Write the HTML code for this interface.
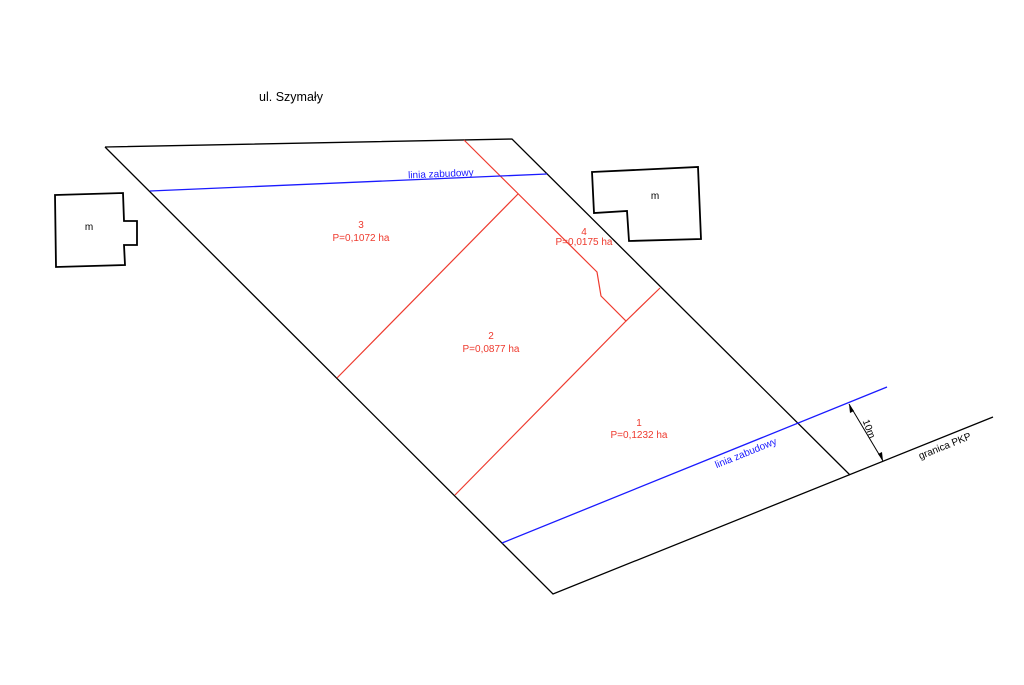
<!DOCTYPE html>
<html><head><style>body{margin:0;background:#fff}</style></head><body>
<svg width="1024" height="680" xmlns="http://www.w3.org/2000/svg" font-family="Liberation Sans, sans-serif">
<rect width="1024" height="680" fill="#fff"/>
<g fill="none" stroke="#000" stroke-width="1.3">
<polyline points="105,147 512,139 850,475"/>
<polyline points="105,147 553,594 993,417"/>
<polygon points="55,195 123,193 124,221 137,221 137,245 124,245 125,265 56,267" stroke-width="1.8"/>
<polygon points="592,172 698,167 701,239 629,241 627,211 594,213" stroke-width="1.8"/>
<line x1="849" y1="404" x2="883" y2="461" stroke-width="1"/>
</g>
<path d="M849,404 l1,9 l4,-2 z M883,461 l-1,-9 l-4,2 z" fill="#000"/>
<g stroke="#ee3a2e" stroke-width="1.2" fill="none">
<polyline points="464,140 597,272 601,296 626,321 660,288"/>
<line x1="626" y1="321" x2="455" y2="495"/>
<line x1="518" y1="194" x2="337" y2="378"/>
</g>
<g stroke="#1a1aff" stroke-width="1.3">
<line x1="150" y1="191" x2="547" y2="174"/>
<line x1="502" y1="543" x2="887" y2="387"/>
</g>
<g font-size="10" fill="#000" text-anchor="middle">
<text x="291" y="101" font-size="12.5">ul. Szymały</text>
<text x="89" y="230">m</text>
<text x="655" y="199">m</text>
<text transform="translate(946,449) rotate(-22)">granica PKP</text>
<text transform="translate(866,430) rotate(69)">10m</text>
</g>
<g font-size="10" fill="#ee3a2e" text-anchor="middle">
<text x="361" y="228">3</text><text x="361" y="241">P=0,1072 ha</text>
<text x="491" y="339">2</text><text x="491" y="352">P=0,0877 ha</text>
<text x="639" y="426">1</text><text x="639" y="438">P=0,1232 ha</text>
<text x="584" y="235">4</text><text x="584" y="245">P=0,0175 ha</text>
</g>
<g font-size="10" fill="#1a1aff" text-anchor="middle">
<text transform="translate(441,177) rotate(-2.5)">linia zabudowy</text>
<text transform="translate(747,456) rotate(-22)">linia zabudowy</text>
</g>
</svg>
</body></html>
